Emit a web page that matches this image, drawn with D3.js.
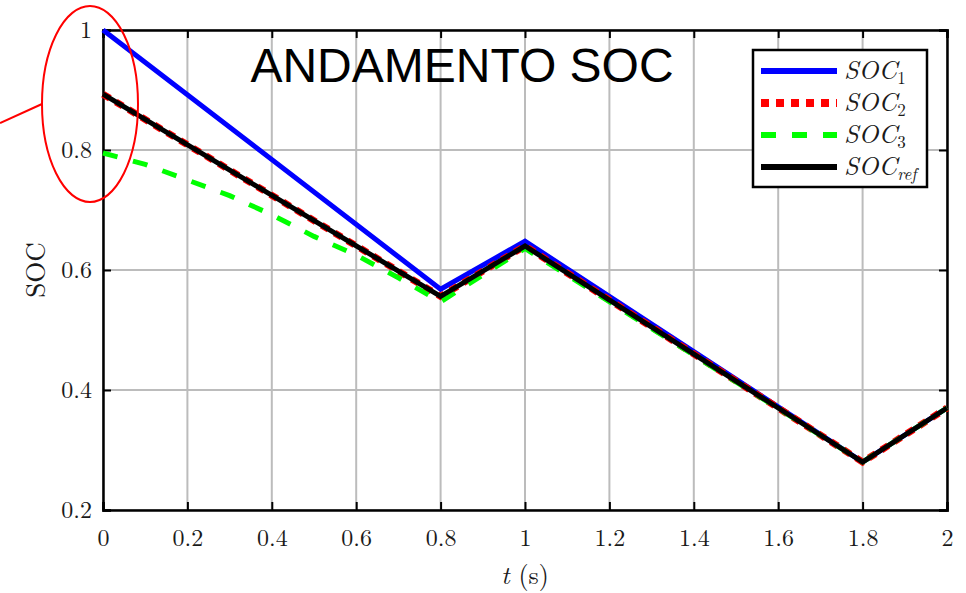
<!DOCTYPE html>
<html>
<head>
<meta charset="utf-8">
<script src="https://cdn.jsdelivr.net/npm/d3@7"></script>
<style>
  body { margin: 0; background: #fff; }
</style>
</head>
<body>
<div id="chart"></div>
<script>
// data
const tKnots = [0, 0.8, 1, 1.8, 2];
const soc1   = [1.0, 0.568, 0.648, 0.28, 0.37];
const soc2   = [0.893, 0.556, 0.640, 0.28, 0.37];
const socRef = [0.893, 0.556, 0.640, 0.28, 0.37];
const tSoc3  = [0, 0.1, 0.2, 0.3, 0.4, 0.5, 0.6, 0.7, 0.8, 1, 1.8, 2];
const soc3   = [0.795, 0.776, 0.75, 0.724, 0.692, 0.656, 0.625, 0.587, 0.547, 0.636, 0.28, 0.37];

const xTicks = [0, 0.2, 0.4, 0.6, 0.8, 1, 1.2, 1.4, 1.6, 1.8, 2];
const yTicks = [0.2, 0.4, 0.6, 0.8, 1];

const series = [
  {name: 'SOC', sub: '1',   t: tKnots, v: soc1,   color: '#0000ff', width: 5, dash: null},
  {name: 'SOC', sub: '2',   t: tKnots, v: soc2,   color: '#ff0000', width: 7, dash: '8,7'},
  {name: 'SOC', sub: '3',   t: tSoc3,  v: soc3,   color: '#00ff00', width: 5, dash: '15,16'},
  {name: 'SOC', sub: 'ref', t: tKnots, v: socRef, color: '#000000', width: 5, dash: null}
];

const W = 966, H = 593;
const margin = {top: 30, right: 19, bottom: 83, left: 103};
const serif = '"Latin Modern Roman", "Liberation Serif", serif';

const svg = d3.select('#chart').append('svg')
    .attr('width', W)
    .attr('height', H);

const x = d3.scaleLinear().domain([0, 2]).range([margin.left, W - margin.right]);
const y = d3.scaleLinear().domain([0.2, 1]).range([H - margin.bottom, margin.top]);

// grid
svg.append('g')
  .selectAll('line')
  .data(xTicks)
  .join('line')
    .attr('x1', d => x(d)).attr('x2', d => x(d))
    .attr('y1', y(0.2)).attr('y2', y(1))
    .attr('stroke', '#bcbcbc').attr('stroke-width', 2);

svg.append('g')
  .selectAll('line')
  .data(yTicks)
  .join('line')
    .attr('x1', x(0)).attr('x2', x(2))
    .attr('y1', d => y(d)).attr('y2', d => y(d))
    .attr('stroke', '#bcbcbc').attr('stroke-width', 2);

// axes (ticks inside, mirrored on top and right)
const fmt = d => d3.format('~g')(d);
const axB = svg.append('g').attr('transform', `translate(0,${y(0.2)})`)
  .call(d3.axisBottom(x).tickValues(xTicks).tickSize(-8).tickPadding(19).tickFormat(fmt));
const axT = svg.append('g').attr('transform', `translate(0,${y(1)})`)
  .call(d3.axisTop(x).tickValues(xTicks).tickSize(-8).tickFormat(''));
const axL = svg.append('g').attr('transform', `translate(${x(0)},0)`)
  .call(d3.axisLeft(y).tickValues(yTicks).tickSize(-8).tickPadding(11).tickFormat(fmt));
const axR = svg.append('g').attr('transform', `translate(${x(2)},0)`)
  .call(d3.axisRight(y).tickValues(yTicks).tickSize(-8).tickFormat(''));

[axB, axT, axL, axR].forEach(a => {
  a.select('.domain').attr('stroke', '#000').attr('stroke-width', 2.5);
  a.selectAll('.tick line').attr('stroke', '#000').attr('stroke-width', 2);
  a.selectAll('.tick text')
    .attr('font-family', serif)
    .attr('font-size', 24)
    .attr('fill', '#1a1a1a');
});

// lines
const line = d3.line()
    .x(d => x(d[0]))
    .y(d => y(d[1]));

svg.append('g')
  .selectAll('path')
  .data(series)
  .join('path')
    .attr('d', s => line(s.t.map((t, i) => [t, s.v[i]])))
    .attr('fill', 'none')
    .attr('stroke', s => s.color)
    .attr('stroke-width', s => s.width)
    .attr('stroke-dasharray', s => s.dash)
    .attr('stroke-linejoin', 'miter');

// axis labels
svg.append('text')
    .attr('transform', `translate(45,270) rotate(-90)`)
    .attr('text-anchor', 'middle')
    .attr('font-family', serif)
    .attr('font-size', 27)
    .attr('fill', '#1a1a1a')
    .text('SOC');

const xl = svg.append('text')
    .attr('x', (x(0) + x(2)) / 2)
    .attr('y', 584)
    .attr('text-anchor', 'middle')
    .attr('font-family', serif)
    .attr('font-size', 26)
    .attr('fill', '#1a1a1a');
xl.append('tspan').attr('font-style', 'italic').text('t');
xl.append('tspan').text(' (s)');

// title
svg.append('text')
    .attr('x', 462)
    .attr('y', 82)
    .attr('text-anchor', 'middle')
    .attr('font-family', '"Liberation Sans", Arial, sans-serif')
    .attr('font-size', 48)
    .attr('fill', '#000')
    .text('ANDAMENTO SOC');

// legend
const legend = svg.append('g').attr('transform', 'translate(753,50)');
legend.append('rect')
    .attr('width', 174).attr('height', 137)
    .attr('fill', '#fff')
    .attr('stroke', '#000').attr('stroke-width', 2.5);

const rows = legend.selectAll('g.row')
  .data(series)
  .join('g')
    .attr('class', 'row')
    .attr('transform', (d, i) => `translate(0,${21 + i * 32})`);

rows.append('line')
    .attr('x1', 8).attr('x2', 84)
    .attr('stroke', d => d.color)
    .attr('stroke-width', d => d.width + 1)
    .attr('stroke-dasharray', d => d.dash);

const lt = rows.append('text')
    .attr('x', 91)
    .attr('y', 8)
    .attr('font-family', serif)
    .attr('font-style', 'italic')
    .attr('font-size', 26)
    .attr('fill', '#1a1a1a');
lt.append('tspan').text(d => d.name);
lt.append('tspan')
    .attr('font-size', 17)
    .attr('dy', 5)
    .attr('font-style', d => d.sub === 'ref' ? 'italic' : 'normal')
    .text(d => d.sub);

// red annotation ellipse
svg.append('ellipse')
    .attr('cx', 90).attr('cy', 104)
    .attr('rx', 48).attr('ry', 98)
    .attr('fill', 'none')
    .attr('stroke', '#ff0000').attr('stroke-width', 2);
svg.append('line')
    .attr('x1', 0).attr('y1', 123)
    .attr('x2', 42).attr('y2', 104)
    .attr('stroke', '#ff0000').attr('stroke-width', 2);
</script>
</body>
</html>
